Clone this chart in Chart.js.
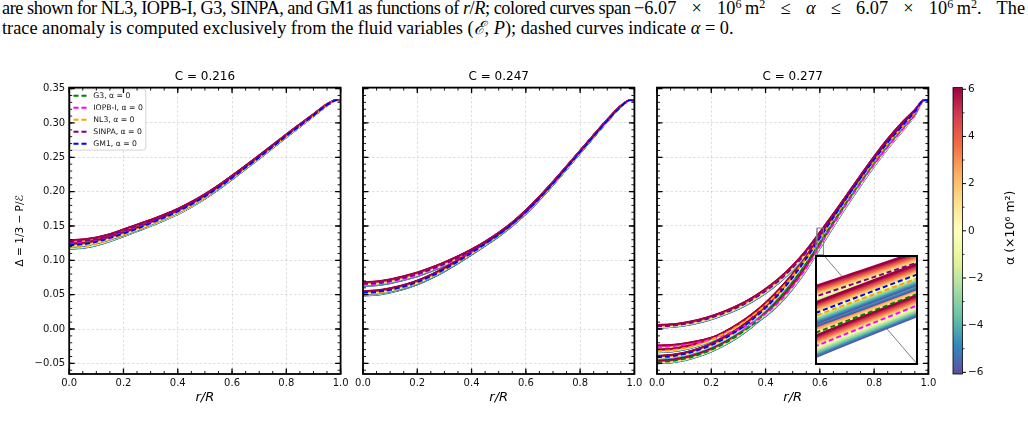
<!DOCTYPE html>
<html><head><meta charset="utf-8">
<script src="https://cdn.jsdelivr.net/npm/chart.js@4.4.1/dist/chart.umd.min.js"></script>
<style>
html,body{margin:0;padding:0;background:#fff;width:1028px;height:438px;overflow:hidden;}
body{position:relative;}
canvas{position:absolute;}
.cap{position:absolute;font-family:"Liberation Serif","Times New Roman",serif;font-size:18.3px;line-height:20px;color:#000;white-space:nowrap;}
#c1a{left:2px;top:-2px;letter-spacing:-0.45px;}
#c1m{left:634px;top:-2px;width:391px;white-space:normal;text-align:justify;text-align-last:justify;}
#cap2{left:2px;top:18px;}
sup{font-size:0.66em;line-height:0;vertical-align:0;position:relative;top:-0.5em;}
</style></head><body>
<div class="cap" id="c1a">are shown for NL3, IOPB-I, G3, SINPA, and GM1 as functions of <i>r</i>/<i>R</i>; colored curves span</div>
<div class="cap" id="c1m">−6.07 × 10<sup>6</sup>&#8239;m<sup>2</sup> ≤ <i>α</i> ≤ 6.07 × 10<sup>6</sup>&#8239;m<sup>2</sup>. The</div>
<div class="cap" id="cap2">trace anomaly is computed exclusively from the fluid variables (<i>ℰ</i>, <i>P</i>); dashed curves indicate <i>α</i> = 0.</div>
<canvas id="p1" width="356" height="378" style="left:0px;top:60px"></canvas>
<canvas id="p2" width="300" height="378" style="left:349px;top:60px"></canvas>
<canvas id="p3" width="300" height="378" style="left:643px;top:60px"></canvas>
<canvas id="cb" width="88" height="378" style="left:940px;top:60px"></canvas>
<canvas id="ins" width="103" height="110" style="left:815px;top:255px"></canvas>
<script>
// ---------------- data ----------------
const R_GRID = [0, 0.05, 0.1, 0.15, 0.2, 0.25, 0.3, 0.35, 0.4, 0.45, 0.5, 0.55, 0.6, 0.65, 0.7, 0.75, 0.8, 0.85, 0.9, 0.95, 0.985, 1.0];
const MODELS = ['G3', 'IOPB-I', 'NL3', 'SINPA', 'GM1'];
const MODEL_COLORS = ['#008000', '#ff00ff', '#ffa500', '#800080', '#0000ff'];
const ALPHA_MAX = 6.07;
const ALPHA_LEVELS = [-6.07, -5.5, -5, -4.5, -4, -3.5, -3, -2.5, -2, -1.5, -1, -0.5, 0, 0.5, 1, 1.5, 2, 2.5, 3, 3.5, 4, 4.5, 5, 5.5, 6.07];
const X_TICKS = [0, 0.2, 0.4, 0.6, 0.8, 1.0];
const Y_TICKS = [-0.05, 0, 0.05, 0.1, 0.15, 0.2, 0.25, 0.3, 0.35];
const CBAR_TICKS = [-6, -4, -2, 0, 2, 4, 6];
const PANEL_TITLES = ['C = 0.216', 'C = 0.247', 'C = 0.277'];

// C = 0.216, alpha = 0
const P1_G3    = [0.123, 0.1242, 0.128, 0.1335, 0.140, 0.147, 0.155, 0.163, 0.1715, 0.182, 0.1935, 0.2065, 0.2205, 0.2352, 0.2502, 0.2656, 0.2811, 0.2961, 0.3111, 0.3261, 0.3333, 0.3325];
const P1_IOPB  = [0.126, 0.1271, 0.130, 0.135, 0.142, 0.149, 0.156, 0.1638, 0.1723, 0.1823, 0.1937, 0.2066, 0.2206, 0.2353, 0.2503, 0.2657, 0.2812, 0.2962, 0.3112, 0.3262, 0.3333, 0.3325];
const P1_NL3   = [0.119, 0.1203, 0.124, 0.130, 0.137, 0.1445, 0.152, 0.1602, 0.169, 0.1795, 0.1915, 0.2048, 0.2195, 0.2345, 0.2495, 0.265, 0.2805, 0.2957, 0.3108, 0.3259, 0.3333, 0.3325];
const P1_SINPA = [0.127, 0.1282, 0.131, 0.136, 0.143, 0.150, 0.157, 0.1648, 0.1733, 0.1832, 0.1947, 0.2077, 0.2218, 0.2365, 0.2515, 0.2668, 0.2822, 0.2972, 0.312, 0.327, 0.3333, 0.3325];
const P1_GM1   = [0.122, 0.1232, 0.127, 0.1325, 0.139, 0.146, 0.154, 0.1622, 0.1712, 0.1815, 0.193, 0.206, 0.220, 0.235, 0.250, 0.2655, 0.281, 0.296, 0.311, 0.326, 0.3333, 0.3325];
const P1_SPREAD = [0.0025, 0.0025, 0.0025, 0.0024, 0.0024, 0.0023, 0.0022, 0.0021, 0.0020, 0.0020, 0.0019, 0.0018, 0.0018, 0.0017, 0.0016, 0.0015, 0.0014, 0.0012, 0.0010, 0.0006, 0.0002, 0.0001];

// C = 0.247, alpha = 0
const P2_G3    = [0.052, 0.053, 0.0562, 0.061, 0.0676, 0.0762, 0.0865, 0.098, 0.1105, 0.1235, 0.137, 0.1522, 0.1698, 0.1898, 0.2116, 0.2344, 0.2575, 0.2806, 0.3031, 0.3236, 0.3333, 0.3325];
const P2_IOPB  = [0.065, 0.066, 0.069, 0.0735, 0.079, 0.086, 0.094, 0.103, 0.113, 0.1245, 0.1375, 0.1525, 0.1703, 0.1904, 0.2121, 0.2348, 0.2579, 0.281, 0.3036, 0.3242, 0.3333, 0.3325];
const P2_NL3   = [0.051, 0.052, 0.0555, 0.0605, 0.0672, 0.0758, 0.0862, 0.0978, 0.1103, 0.1233, 0.1368, 0.152, 0.1696, 0.1897, 0.2115, 0.2343, 0.2574, 0.2805, 0.3031, 0.3236, 0.3333, 0.3325];
const P2_SINPA = [0.066, 0.067, 0.070, 0.0745, 0.080, 0.087, 0.095, 0.104, 0.114, 0.1255, 0.1385, 0.1535, 0.1712, 0.1912, 0.2128, 0.2355, 0.2585, 0.2815, 0.304, 0.3245, 0.3333, 0.3325];
const P2_GM1   = [0.053, 0.054, 0.057, 0.0618, 0.0683, 0.0768, 0.0870, 0.0985, 0.111, 0.124, 0.1375, 0.1527, 0.1703, 0.1903, 0.2120, 0.2347, 0.2578, 0.2808, 0.3033, 0.3238, 0.3333, 0.3325];
const P2_SPREAD = [0.0025, 0.0025, 0.0025, 0.0025, 0.0025, 0.0024, 0.0024, 0.0023, 0.0023, 0.0022, 0.0021, 0.0020, 0.0020, 0.0019, 0.0018, 0.0017, 0.0015, 0.0013, 0.0010, 0.0006, 0.0002, 0.0001];

// C = 0.277, alpha = 0
const P3_G3    = [-0.048, -0.0469, -0.0436, -0.0381, -0.0305, -0.0207, -0.0087, 0.006, 0.0234, 0.0441, 0.0681, 0.0954, 0.1254, 0.1559, 0.1859, 0.2149, 0.2424, 0.2679, 0.2909, 0.3139, 0.3333, 0.3325];
const P3_IOPB  = [-0.026, -0.0253, -0.0232, -0.0197, -0.0148, -0.0085, -0.0008, 0.009, 0.022, 0.0395, 0.062, 0.089, 0.121, 0.1525, 0.183, 0.212, 0.2395, 0.265, 0.2885, 0.312, 0.3333, 0.3325];
const P3_NL3   = [-0.032, -0.031, -0.0279, -0.0227, -0.0155, -0.0063, 0.005, 0.0188, 0.0352, 0.0547, 0.0773, 0.103, 0.1312, 0.1607, 0.1897, 0.2177, 0.2447, 0.2697, 0.2922, 0.315, 0.3333, 0.3325];
const P3_SINPA = [0.004, 0.0048, 0.007, 0.011, 0.0165, 0.0235, 0.032, 0.0425, 0.0553, 0.0707, 0.0892, 0.1115, 0.1375, 0.1645, 0.1925, 0.2208, 0.2485, 0.2745, 0.2975, 0.318, 0.3333, 0.3325];
const P3_GM1   = [-0.041, -0.0399, -0.0366, -0.0311, -0.0235, -0.0137, -0.0017, 0.013, 0.0304, 0.0511, 0.0751, 0.1024, 0.1324, 0.1624, 0.1914, 0.2194, 0.2464, 0.2714, 0.2939, 0.3165, 0.3333, 0.3325];
const P3_SPREAD = [0.0022, 0.0022, 0.0023, 0.0024, 0.0026, 0.0028, 0.0030, 0.0032, 0.0034, 0.0036, 0.0037, 0.0037, 0.0037, 0.0036, 0.0035, 0.0033, 0.0030, 0.0026, 0.0022, 0.0012, 0.0003, 0.0001];

// zoom window shown in the inset (data units)
const INSET_X = [0.59, 0.613];
const INSET_Y = [0.108, 0.147];

// ---------------- styling / helpers ----------------
const FONT = '"DejaVu Sans", sans-serif';
const Y_MIN = -0.0655, Y_MAX = 0.3515;
const PLOT_W = 271.4;
const SPECTRAL = ['#9e0142','#d53e4f','#f46d43','#fdae61','#fee08b','#ffffbf','#e6f598','#abdda4','#66c2a5','#3288bd','#5e4fa2'];
const INSET_BOX = {left: 815, top: 255, width: 103, height: 110};
const GRID_COLOR = 'rgba(0,0,0,0.16)';

Chart.defaults.font.family = FONT;

function hexRgb(h){return [parseInt(h.substr(1,2),16),parseInt(h.substr(3,2),16),parseInt(h.substr(5,2),16)];}
function alphaColor(a){
  let t = (ALPHA_MAX - a) / (2 * ALPHA_MAX);
  t = Math.min(1, Math.max(0, t));
  const p = t * 10, i = Math.min(9, Math.floor(p)), f = p - i;
  const c1 = hexRgb(SPECTRAL[i]), c2 = hexRgb(SPECTRAL[i+1]);
  const c = c1.map((v,k) => Math.round(v + (c2[k]-v)*f));
  return 'rgb(' + c.join(',') + ')';
}
function fmt(v, d){ const s = Math.abs(v).toFixed(d); return (v < -1e-9 ? '\u2212' : '') + s; }

function buildDatasets(series, spread, bandWidth, dashWidth){
  const draw = [];
  series.forEach(vals => {
    ALPHA_LEVELS.forEach(a => {
      draw.push({label: '', data: R_GRID.map((r,i) => ({x: r, y: vals[i] + a / ALPHA_MAX * spread[i]})),
        borderColor: alphaColor(a), borderWidth: bandWidth});
    });
  });
  series.forEach((vals, m) => {
    draw.push({label: MODELS[m] + ', \u03b1 = 0', data: R_GRID.map((r,i) => ({x: r, y: vals[i]})),
      borderColor: MODEL_COLORS[m], borderWidth: dashWidth, borderDash: [5, 3]});
  });
  // chart.js paints dataset 0 last -> reverse so later entries are on top
  return draw.reverse().map(d => Object.assign({pointRadius: 0, fill: false, cubicInterpolationMode: 'monotone', backgroundColor: d.borderColor}, d));
}

const frameTicks = {
  id: 'frameTicks',
  afterDraw(chart){
    const {ctx, chartArea: a, scales: {x, y}} = chart;
    ctx.save();
    ctx.strokeStyle = '#000';
    const minorX = [], minorY = [];
    for (let k = 0; k <= 20; k++) minorX.push(k * 0.05);
    for (let k = -6; k <= 35; k++) minorY.push(k * 0.01);
    const seg = (list, len, lw) => {
      ctx.lineWidth = lw; ctx.beginPath();
      list.forEach(v => {
        const p = x.getPixelForValue(v);
        if (p < a.left - 0.5 || p > a.right + 0.5) return;
        ctx.moveTo(p, a.bottom); ctx.lineTo(p, a.bottom - len);
        ctx.moveTo(p, a.top); ctx.lineTo(p, a.top + len);
      });
      ctx.stroke();
    };
    const segY = (list, len, lw) => {
      ctx.lineWidth = lw; ctx.beginPath();
      list.forEach(v => {
        const p = y.getPixelForValue(v);
        if (p < a.top - 0.5 || p > a.bottom + 0.5) return;
        ctx.moveTo(a.left, p); ctx.lineTo(a.left + len, p);
        ctx.moveTo(a.right, p); ctx.lineTo(a.right - len, p);
      });
      ctx.stroke();
    };
    seg(minorX, 3, 0.9); segY(minorY, 3, 0.9);
    seg(X_TICKS, 5.5, 1.3); segY(Y_TICKS, 5.5, 1.3);
    ctx.lineWidth = 1.8;
    ctx.strokeRect(a.left, a.top, a.right - a.left, a.bottom - a.top);
    ctx.restore();
  }
};

const legendBox = {
  id: 'legendBox',
  afterLayout(chart){
    const lg = chart.legend, a = chart.chartArea;
    if (!lg) return;
    lg.top = a.top; lg.bottom = a.bottom; lg.height = a.bottom - a.top;
  },
  beforeDatasetsDraw(chart){
    const lg = chart.legend;
    if (!lg || !lg.legendHitBoxes || !lg.legendHitBoxes.length) return;
    const hb = lg.legendHitBoxes;
    let l = Infinity, t = Infinity, r = -Infinity, b = -Infinity;
    hb.forEach(h => { l = Math.min(l, h.left); t = Math.min(t, h.top); r = Math.max(r, h.left + h.width); b = Math.max(b, h.top + h.height); });
    const ctx = chart.ctx;
    ctx.save();
    l -= 3; t -= 3; r += 3; b += 2.5;
    ctx.beginPath();
    if (ctx.roundRect) ctx.roundRect(l, t, r - l, b - t, 2.5); else ctx.rect(l, t, r - l, b - t);
    ctx.fillStyle = 'rgba(255,255,255,0.92)';
    ctx.fill();
    ctx.strokeStyle = '#d0d0d0'; ctx.lineWidth = 0.9;
    ctx.stroke();
    ctx.restore();
    lg.draw();
  }
};

let p3Chart = null;
const insetMark = {
  id: 'insetMark',
  afterDatasetsDraw(chart){
    const {ctx, scales: {x, y}} = chart;
    const x1 = x.getPixelForValue(INSET_X[0]), x2 = x.getPixelForValue(INSET_X[1]);
    const yT = y.getPixelForValue(INSET_Y[1]), yB = y.getPixelForValue(INSET_Y[0]);
    const off = chart.canvas.getBoundingClientRect();
    ctx.save();
    ctx.strokeStyle = '#808080'; ctx.lineWidth = 1;
    ctx.strokeRect(x1, yT, x2 - x1, yB - yT);
    ctx.beginPath();
    ctx.moveTo(x1, yT); ctx.lineTo(INSET_BOX.left - off.left, INSET_BOX.top - off.top);
    ctx.moveTo(x2, yB); ctx.lineTo(INSET_BOX.left + INSET_BOX.width - off.left, INSET_BOX.top + INSET_BOX.height - off.top);
    ctx.stroke();
    ctx.restore();
  }
};

function legendLabels(chart){
  const items = Chart.defaults.plugins.legend.labels.generateLabels(chart);
  return items.map(it => {
    const ds = chart.data.datasets[it.datasetIndex];
    it.lineDash = ds.borderDash || [];
    it.lineWidth = ds.borderWidth;
    it.strokeStyle = ds.borderColor;
    it.fillStyle = ds.borderColor;
    return it;
  });
}

function makePanel(id, idx, series, spread, yW, showY, showLegend, extra){
  const canvas = document.getElementById(id);
  const padRight = canvas.width - yW - PLOT_W;
  const plugins = [frameTicks].concat(extra || []);
  return new Chart(canvas, {
    type: 'line',
    data: {datasets: buildDatasets(series, spread, 1.6, 1.8)},
    plugins: plugins,
    options: {
      responsive: false, animation: false, events: [], devicePixelRatio: 1,
      layout: {padding: {left: 0, right: padRight, top: 0, bottom: 0}},
      plugins: {
        tooltip: {enabled: false},
        title: {display: true, text: PANEL_TITLES[idx], fullSize: false, color: '#000',
          font: {family: FONT, size: 12, weight: 'normal'}, padding: {top: 9.8, bottom: 3.4}},
        legend: showLegend ? {
          display: true, position: 'chartArea', align: 'start',
          labels: {usePointStyle: true, pointStyle: 'line', pointStyleWidth: 16, padding: 4.3,
            font: {family: FONT, size: 7.7}, color: '#222', generateLabels: legendLabels,
            filter: item => item.text !== '', sort: (a, b) => b.datasetIndex - a.datasetIndex}
        } : {display: false}
      },
      scales: {
        x: {type: 'linear', min: 0, max: 1,
          afterBuildTicks: s => { s.ticks = X_TICKS.map(v => ({value: v})); },
          afterFit: s => { s.height = 64; },
          ticks: {padding: 3, autoSkip: false, maxRotation: 0, minRotation: 0, color: '#111',
            font: {family: FONT, size: 10}, callback: v => fmt(v, 1)},
          grid: {color: GRID_COLOR, lineWidth: 0.8, drawTicks: false},
          border: {display: false, dash: [2.5, 2]},
          title: {display: true, text: 'r/R', color: '#000', font: {family: FONT, size: 13, style: 'italic'},
            padding: {top: 0, bottom: 32.7}}},
        y: {type: 'linear', min: Y_MIN, max: Y_MAX,
          afterBuildTicks: s => { s.ticks = Y_TICKS.map(v => ({value: v})); },
          afterFit: s => { s.width = yW; },
          ticks: {display: showY, padding: 4, color: '#111', font: {family: FONT, size: 10}, callback: v => fmt(v, 2)},
          grid: {color: GRID_COLOR, lineWidth: 0.8, drawTicks: false},
          border: {display: false, dash: [2.5, 2]},
          title: {display: showY, text: '\u0394 = 1/3 \u2212 P/\u2130', color: '#000', font: {family: FONT, size: 10.5},
            padding: {top: 13.7, bottom: 0}}}
      }
    }
  });
}

makePanel('p1', 0, [P1_G3, P1_IOPB, P1_NL3, P1_SINPA, P1_GM1], P1_SPREAD, 69.2, true, true, [legendBox]);
makePanel('p2', 1, [P2_G3, P2_IOPB, P2_NL3, P2_SINPA, P2_GM1], P2_SPREAD, 14, false, false);
p3Chart = makePanel('p3', 2, [P3_G3, P3_IOPB, P3_NL3, P3_SINPA, P3_GM1], P3_SPREAD, 14, false, false, [insetMark]);

// ---------------- inset ----------------
const insetDeco = {
  id: 'insetDeco',
  beforeDraw(chart){
    const ctx = chart.ctx;
    ctx.save(); ctx.fillStyle = '#fff'; ctx.fillRect(0, 0, chart.width, chart.height); ctx.restore();
  },
  beforeDatasetsDraw(chart){
    const ctx = chart.ctx;
    const px = p3Chart.scales.x.getPixelForValue(INSET_X[1]) + 643 - INSET_BOX.left;
    const py = p3Chart.scales.y.getPixelForValue(INSET_Y[0]) + 60 - INSET_BOX.top;
    ctx.save(); ctx.strokeStyle = '#808080'; ctx.lineWidth = 1;
    ctx.beginPath(); ctx.moveTo(px, py); ctx.lineTo(INSET_BOX.width, INSET_BOX.height); ctx.stroke();
    ctx.restore();
  },
  afterDraw(chart){
    const ctx = chart.ctx;
    ctx.save(); ctx.strokeStyle = '#000'; ctx.lineWidth = 2;
    ctx.strokeRect(1, 1, chart.width - 2, chart.height - 2); ctx.restore();
  }
};
new Chart(document.getElementById('ins'), {
  type: 'line',
  data: {datasets: buildDatasets([P3_G3, P3_IOPB, P3_NL3, P3_SINPA, P3_GM1], P3_SPREAD, 2.6, 2)},
  plugins: [insetDeco],
  options: {
    responsive: false, animation: false, events: [], devicePixelRatio: 1,
    layout: {padding: 0},
    plugins: {legend: {display: false}, tooltip: {enabled: false}, title: {display: false}},
    scales: {
      x: {type: 'linear', min: INSET_X[0], max: INSET_X[1], display: false},
      y: {type: 'linear', min: INSET_Y[0], max: INSET_Y[1], display: false}
    }
  }
});

// ---------------- colorbar ----------------
const cbarDeco = {
  id: 'cbarDeco',
  afterDraw(chart){
    const {ctx, chartArea: a, scales: {y}} = chart;
    ctx.save();
    ctx.strokeStyle = '#000';
    ctx.lineWidth = 0.8;
    ctx.beginPath();
    for (let v = -6; v <= 6; v++) {
      if (v % 2 === 0) continue;
      const p = y.getPixelForValue(v);
      ctx.moveTo(a.right, p); ctx.lineTo(a.right + 2, p);
    }
    ctx.stroke();
    ctx.lineWidth = 1;
    ctx.beginPath();
    CBAR_TICKS.forEach(v => { const p = y.getPixelForValue(v); ctx.moveTo(a.right, p); ctx.lineTo(a.right + 3.5, p); });
    ctx.stroke();
    ctx.lineWidth = 0.8;
    ctx.strokeRect(a.left, a.top, a.right - a.left, a.bottom - a.top);
    ctx.fillStyle = '#000';
    ctx.font = '12.5px ' + FONT;
    ctx.textAlign = 'center'; ctx.textBaseline = 'middle';
    ctx.translate(71, (a.top + a.bottom) / 2 - 3);
    ctx.rotate(-Math.PI / 2);
    ctx.fillText('\u03b1 (\u00d710\u2076 m\u00b2)', 0, 0);
    ctx.restore();
  }
};
new Chart(document.getElementById('cb'), {
  type: 'bar',
  data: {labels: ['alpha'], datasets: [{data: [[-ALPHA_MAX, ALPHA_MAX]], barPercentage: 1, categoryPercentage: 1, borderWidth: 0,
    backgroundColor: c => {
      const ca = c.chart.chartArea; if (!ca) return '#ccc';
      const g = c.chart.ctx.createLinearGradient(0, ca.top, 0, ca.bottom);
      SPECTRAL.forEach((col, i) => g.addColorStop(i / 10, col));
      return g;
    }}]},
  plugins: [cbarDeco],
  options: {
    responsive: false, animation: false, events: [], devicePixelRatio: 1,
    layout: {padding: {left: 13, right: 0, top: 27.6, bottom: 64}},
    plugins: {legend: {display: false}, tooltip: {enabled: false}, title: {display: false}},
    scales: {
      x: {display: false},
      y: {position: 'right', min: -ALPHA_MAX, max: ALPHA_MAX,
        afterBuildTicks: s => { s.ticks = CBAR_TICKS.map(v => ({value: v})); },
        afterFit: s => { s.width = 65.5; },
        ticks: {padding: 5.5, color: '#111', font: {family: FONT, size: 10.5}, callback: v => fmt(v, 0)},
        grid: {display: false, drawTicks: false},
        border: {display: false}}
    }
  }
});
</script>
</body></html>
